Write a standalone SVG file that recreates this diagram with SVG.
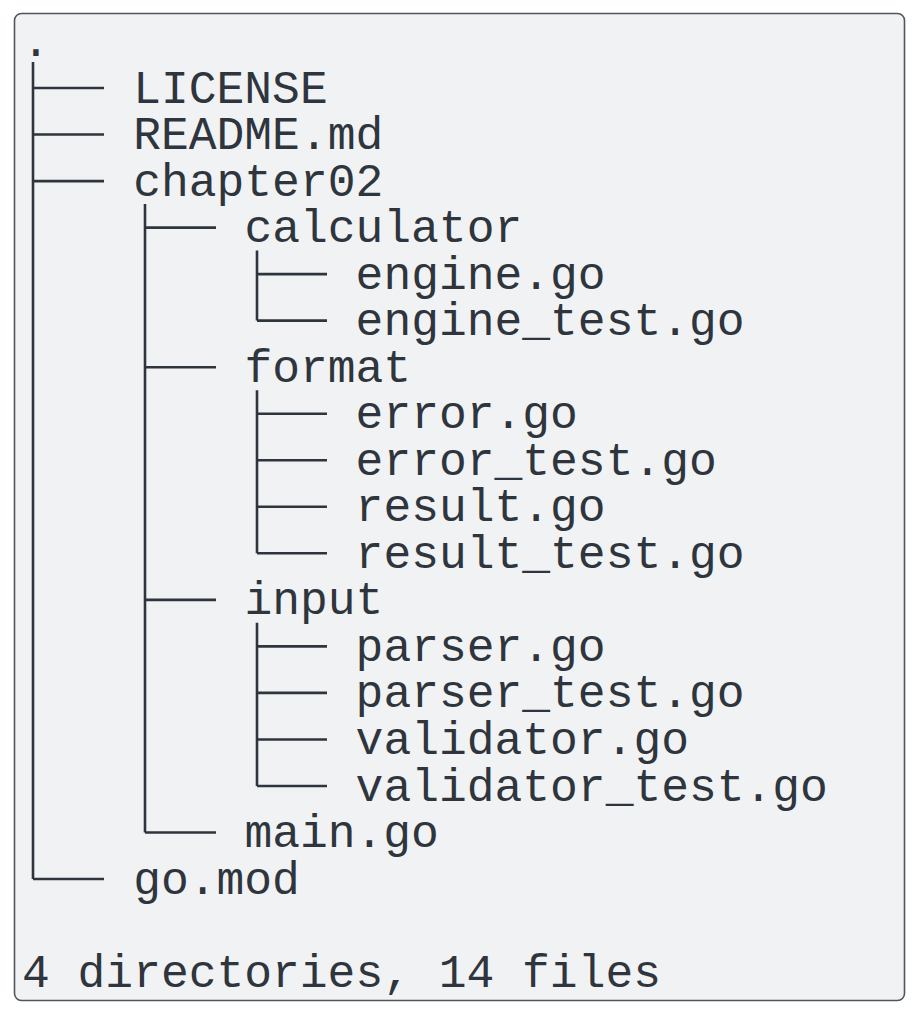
<svg xmlns="http://www.w3.org/2000/svg" width="916" height="1013" viewBox="0 0 916 1013">
<style>
.t{font-family:"Liberation Mono","DejaVu Sans Mono",monospace;font-size:46.3px;fill:#2f353d}
.c{stroke:#2f353d;stroke-width:2.6;fill:none;stroke-linecap:butt}
</style>
<rect x="14.5" y="13.5" width="890" height="987" rx="7" fill="#f1f2f4" stroke="#50565e" stroke-width="1.6"/>
<g id="connectors" class="c">
<path d="M33 62V879M33 88H104M33 134.5H104M33 181.1H104M33 879H104"/>
<path d="M145 204V832.5M145 227.6H216M145 367.2H216M145 599.9H216M145 832.5H216"/>
<path d="M257 250.6V320.6M257 274.1H327M257 320.6H327"/>
<path d="M257 390.2V553.3M257 413.7H327M257 460.2H327M257 506.8H327M257 553.3H327"/>
<path d="M257 622.8V786M257 646.4H327M257 692.9H327M257 739.5H327M257 786H327"/>
</g>
<g id="root"><text class="t" x="22" y="55.5">.</text></g>
<g id="license"><text class="t" x="133.2" y="102.5">LICENSE</text></g>
<g id="readme"><text class="t" x="133.2" y="149">README.md</text></g>
<g id="chapter02"><text class="t" x="133.2" y="195.6">chapter02</text></g>
<g id="calculator"><text class="t" x="244.4" y="242.1">calculator</text></g>
<g id="engine"><text class="t" x="355.6" y="288.6">engine.go</text></g>
<g id="engine_test"><text class="t" x="355.6" y="335.2">engine_test.go</text></g>
<g id="format"><text class="t" x="244.4" y="381.7">format</text></g>
<g id="error"><text class="t" x="355.6" y="428.2">error.go</text></g>
<g id="error_test"><text class="t" x="355.6" y="474.8">error_test.go</text></g>
<g id="result"><text class="t" x="355.6" y="521.3">result.go</text></g>
<g id="result_test"><text class="t" x="355.6" y="567.8">result_test.go</text></g>
<g id="input"><text class="t" x="244.4" y="614.4">input</text></g>
<g id="parser"><text class="t" x="355.6" y="660.9">parser.go</text></g>
<g id="parser_test"><text class="t" x="355.6" y="707.4">parser_test.go</text></g>
<g id="validator"><text class="t" x="355.6" y="754">validator.go</text></g>
<g id="validator_test"><text class="t" x="355.6" y="800.5">validator_test.go</text></g>
<g id="main"><text class="t" x="244.4" y="847">main.go</text></g>
<g id="gomod"><text class="t" x="133.2" y="893.5">go.mod</text></g>
<g id="summary"><text class="t" x="22" y="986.6">4 directories, 14 files</text></g>
</svg>
